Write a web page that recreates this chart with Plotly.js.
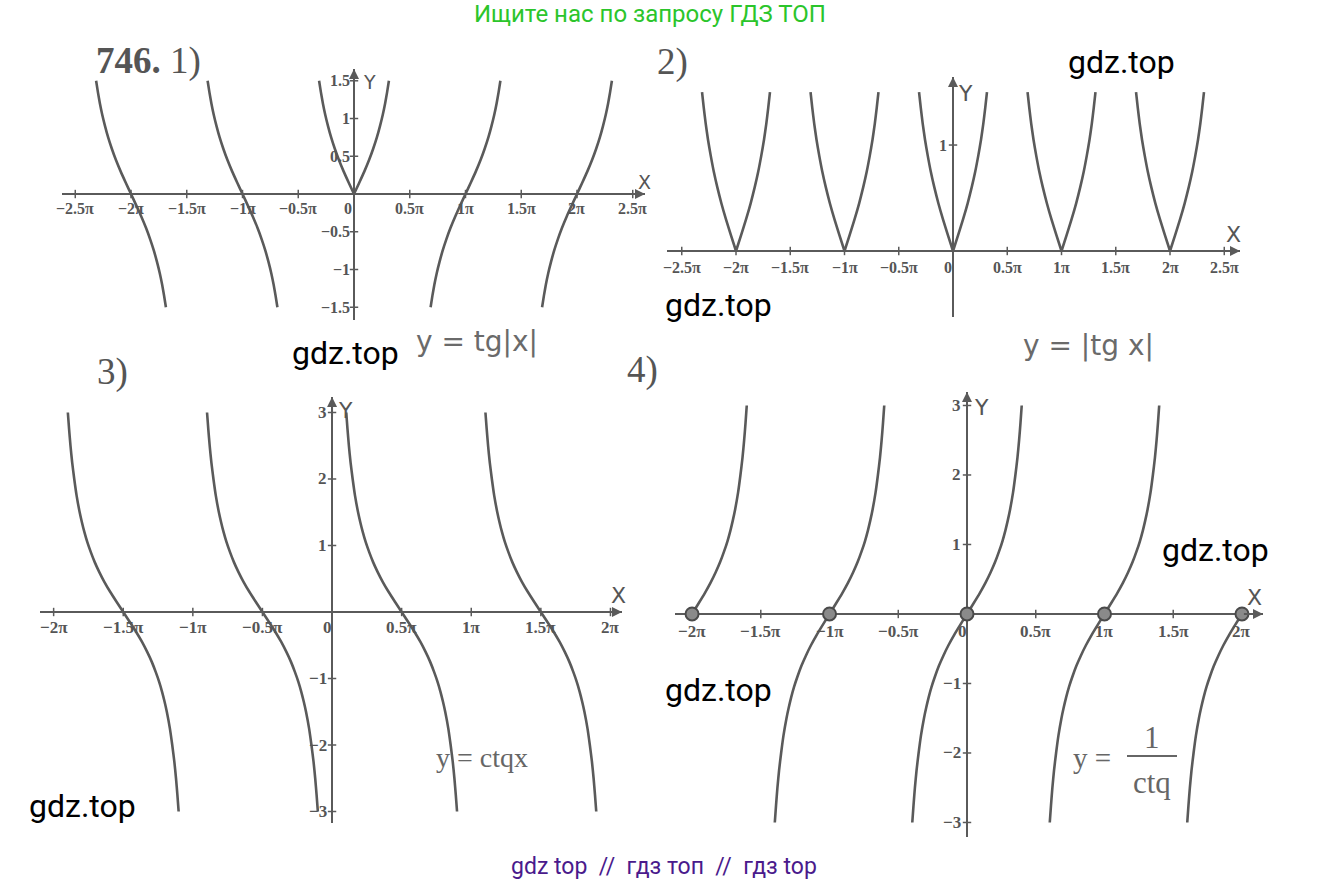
<!DOCTYPE html>
<html>
<head>
<meta charset="utf-8">
<script src="https://cdn.plot.ly/plotly-3.0.1.min.js"></script>
<style>
  html, body { margin: 0; padding: 0; background: #fff; }
  #chart { width: 1331px; height: 883px; }
</style>
</head>
<body>
<div id="chart"></div>
<script>
const W = 1331, H = 883;

// One branch of the tangent curve, read at fixed heights:
// height above the axis, and the branch's distance from its zero there (units of π)
const branchHeights = [0, 0.15, 0.3, 0.45, 0.6, 0.75, 0.9, 1.05, 1.2, 1.35, 1.5, 1.75, 2, 2.25, 2.5, 2.75, 3];
const branchOffsets = [0, 0.047, 0.093, 0.135, 0.172, 0.205, 0.233, 0.258, 0.279, 0.297, 0.313, 0.335, 0.352, 0.367, 0.379, 0.389, 0.398];

// 1) y = tg|x|
const p1Zeros = [-2, -1, 0, 1, 2];
const p1Kinds = ['falling', 'falling', 'vee', 'rising', 'rising'];
const p1Clip = [-1.5, 1.5];
const p1XTicks = [-2.5, -2, -1.5, -1, -0.5, 0, 0.5, 1, 1.5, 2, 2.5];
const p1XLabels = ['−2.5π', '−2π', '−1.5π', '−1π', '−0.5π', '0', '0.5π', '1π', '1.5π', '2π', '2.5π'];
const p1YTicks = [1.5, 1, 0.5, -0.5, -1, -1.5];
const p1YLabels = ['1.5', '1', '0.5', '−0.5', '−1', '−1.5'];

// 2) y = |tg x|
const p2Zeros = [-2, -1, 0, 1, 2];
const p2Kinds = ['vee', 'vee', 'vee', 'vee', 'vee'];
const p2Clip = [0, 1.5];
const p2XTicks = [-2.5, -2, -1.5, -1, -0.5, 0, 0.5, 1, 1.5, 2, 2.5];
const p2XLabels = ['−2.5π', '−2π', '−1.5π', '−1π', '−0.5π', '0', '0.5π', '1π', '1.5π', '2π', '2.5π'];
const p2YTicks = [1];
const p2YLabels = ['1'];

// 3) y = ctg x
const p3Zeros = [-1.5, -0.5, 0.5, 1.5];
const p3Kinds = ['falling', 'falling', 'falling', 'falling'];
const p3Clip = [-3, 3];
const p3XTicks = [-2, -1.5, -1, -0.5, 0, 0.5, 1, 1.5, 2];
const p3XLabels = ['−2π', '−1.5π', '−1π', '−0.5π', '0', '0.5π', '1π', '1.5π', '2π'];
const p3YTicks = [3, 2, 1, -1, -2, -3];
const p3YLabels = ['3', '2', '1', '−1', '−2', '−3'];

// 4) y = 1 / ctg x, drawn on [−2π, 2π] with its zeros marked
const p4Zeros = [-2, -1, 0, 1, 2];
const p4Kinds = ['rising', 'rising', 'rising', 'rising', 'rising'];
const p4Clip = [-3, 3];
const p4Span = [-2, 2];
const p4Marked = [-2, -1, 0, 1, 2];
const p4XTicks = [-2, -1.5, -1, -0.5, 0, 0.5, 1, 1.5, 2];
const p4XLabels = ['−2π', '−1.5π', '−1π', '−0.5π', '0', '0.5π', '1π', '1.5π', '2π'];
const p4YTicks = [3, 2, 1, -1, -2, -3];
const p4YLabels = ['3', '2', '1', '−1', '−2', '−3'];

const INK = '#5a5a5a';
const LABEL = '#555555';
const SERIF = 'Liberation Serif, Times New Roman, serif';
const SANS = 'DejaVu Sans, sans-serif';

// Pieces of one branch: the left half walks toward the zero, the right half away from it.
function branchPieces(zero, kind, clip, span) {
  const inside = (x, y) => y >= clip[0] - 1e-9 && y <= clip[1] + 1e-9 &&
                           (!span || (x >= span[0] - 1e-9 && x <= span[1] + 1e-9));
  const left = { x: [], y: [] }, right = { x: [], y: [] };
  for (let i = branchHeights.length - 1; i >= 0; i--) {
    const x = zero - branchOffsets[i];
    const y = kind === 'rising' ? -branchHeights[i] : branchHeights[i];
    if (inside(x, y)) { left.x.push(x); left.y.push(y); }
  }
  for (let i = 0; i < branchHeights.length; i++) {
    const x = zero + branchOffsets[i];
    const y = kind === 'falling' ? -branchHeights[i] : branchHeights[i];
    if (inside(x, y)) { right.x.push(x); right.y.push(y); }
  }
  if (kind === 'vee') return [left, right];
  return [{ x: left.x.concat(right.x.slice(1)), y: left.y.concat(right.y.slice(1)) }];
}

// Pixel-box geometry of each panel
const panels = [
  { n: '',  box: [62, 69, 645, 320],  xr: [-2.619, 2.61],  yr: [-1.669, 1.656],
    zeros: p1Zeros, kinds: p1Kinds, clip: p1Clip, span: null,
    xt: p1XTicks, xl: p1XLabels, yt: p1YTicks, yl: p1YLabels,
    xlShift: -14, zeroShift: -6, ylShift: -2, tickFont: 16 },
  { n: '2', box: [667, 77, 1240, 317], xr: [-2.636, 2.645], yr: [-0.623, 1.642],
    zeros: p2Zeros, kinds: p2Kinds, clip: p2Clip, span: null,
    xt: p2XTicks, xl: p2XLabels, yt: p2YTicks, yl: p2YLabels,
    xlShift: -17, zeroShift: -5, ylShift: -4, tickFont: 16 },
  { n: '3', box: [40, 397, 622, 823],  xr: [-2.098, 2.083], yr: [-3.173, 3.233],
    zeros: p3Zeros, kinds: p3Kinds, clip: p3Clip, span: null,
    xt: p3XTicks, xl: p3XLabels, yt: p3YTicks, yl: p3YLabels,
    xlShift: -15, zeroShift: -5, ylShift: -3, tickFont: 17 },
  { n: '4', box: [675, 392, 1263, 837], xr: [-2.124, 2.153], yr: [-3.209, 3.194],
    zeros: p4Zeros, kinds: p4Kinds, clip: p4Clip, span: p4Span,
    xt: p4XTicks, xl: p4XLabels, yt: p4YTicks, yl: p4YLabels,
    xlShift: -18, zeroShift: -5, ylShift: -4, tickFont: 17 }
];

const traces = [];
const annotations = [];
const layout = {
  width: W, height: H,
  margin: { l: 0, r: 0, t: 0, b: 0, pad: 0 },
  paper_bgcolor: '#ffffff', plot_bgcolor: 'rgba(0,0,0,0)',
  showlegend: false,
  font: { family: SERIF, color: INK },
  shapes: []
};

panels.forEach(p => {
  const xa = 'x' + p.n, ya = 'y' + p.n;
  const [x0, y0, x1, y1] = p.box;
  layout['xaxis' + p.n] = {
    domain: [x0 / W, x1 / W], range: p.xr, anchor: ya,
    showgrid: false, showticklabels: false, ticks: '', showline: false,
    zeroline: true, zerolinecolor: INK, zerolinewidth: 2, fixedrange: true
  };
  layout['yaxis' + p.n] = {
    domain: [1 - y1 / H, 1 - y0 / H], range: p.yr, anchor: xa,
    showgrid: false, showticklabels: false, ticks: '', showline: false,
    zeroline: true, zerolinecolor: INK, zerolinewidth: 2, fixedrange: true
  };

  // curves
  p.zeros.forEach((z, i) => {
    branchPieces(z, p.kinds[i], p.clip, p.span).forEach(piece => {
      traces.push({
        type: 'scatter', mode: 'lines', x: piece.x, y: piece.y,
        xaxis: xa, yaxis: ya, hoverinfo: 'skip', cliponaxis: false,
        line: { color: INK, width: 2.6, shape: 'spline', smoothing: 0.6 }
      });
    });
  });

  // small tick marks on both axes
  const xt = p.xt.filter(v => v !== 0);
  traces.push({
    type: 'scatter', mode: 'markers', x: xt, y: xt.map(() => 0),
    xaxis: xa, yaxis: ya, hoverinfo: 'skip', cliponaxis: false,
    marker: { symbol: 'line-ns-open', size: 6, color: INK, line: { color: INK, width: 1.5 } }
  });
  traces.push({
    type: 'scatter', mode: 'markers', x: p.yt.map(() => 0), y: p.yt,
    xaxis: xa, yaxis: ya, hoverinfo: 'skip', cliponaxis: false,
    marker: { symbol: 'line-ew-open', size: 6, color: INK, line: { color: INK, width: 1.5 } }
  });

  // tick labels
  const tickFont = { family: SERIF, size: p.tickFont, color: LABEL, weight: 'bold' };
  p.xt.forEach((v, i) => {
    annotations.push({
      xref: xa, yref: ya, x: v, y: 0, text: p.xl[i], showarrow: false,
      xanchor: 'center', yanchor: 'middle', yshift: p.xlShift,
      xshift: v === 0 ? p.zeroShift : 0, font: tickFont
    });
  });
  p.yt.forEach((v, i) => {
    annotations.push({
      xref: xa, yref: ya, x: 0, y: v, text: p.yl[i], showarrow: false,
      xanchor: 'right', yanchor: 'middle', xshift: p.ylShift, font: tickFont
    });
  });

  // arrow heads at the ends of both axes
  annotations.push({
    xref: xa, yref: ya, axref: xa, ayref: ya, x: p.xr[1], y: 0,
    ax: p.xr[1] - 0.15, ay: 0, text: '', showarrow: true,
    arrowhead: 2, arrowsize: 1, arrowwidth: 2, arrowcolor: INK, standoff: 0
  });
  annotations.push({
    xref: xa, yref: ya, axref: xa, ayref: ya, x: 0, y: p.yr[1],
    ax: 0, ay: p.yr[1] - (p.yr[1] - p.yr[0]) * 0.05, text: '', showarrow: true,
    arrowhead: 2, arrowsize: 1, arrowwidth: 2, arrowcolor: INK, standoff: 0
  });
});

// marked zeros of the fourth graph
traces.push({
  type: 'scatter', mode: 'markers', x: p4Marked, y: p4Marked.map(() => 0),
  xaxis: 'x4', yaxis: 'y4', hoverinfo: 'skip', cliponaxis: false,
  marker: { symbol: 'circle', size: 13, color: '#8a8a8a', line: { color: '#4a4a4a', width: 2 } }
});

// text placed on the page in pixels
function pageText(px, py, text, font, xanchor) {
  annotations.push({
    xref: 'paper', yref: 'paper', x: px / W, y: 1 - py / H, text: text,
    showarrow: false, xanchor: xanchor || 'center', yanchor: 'middle', font: font
  });
}

const axisName = { family: SANS, color: LABEL };
pageText(644, 182, 'X', Object.assign({ size: 19 }, axisName));
pageText(369, 82, 'Y', Object.assign({ size: 19 }, axisName));
pageText(1233, 235, 'X', Object.assign({ size: 22 }, axisName));
pageText(965, 93, 'Y', Object.assign({ size: 22 }, axisName));
pageText(618, 595, 'X', Object.assign({ size: 22 }, axisName));
pageText(345, 410, 'Y', Object.assign({ size: 22 }, axisName));
pageText(1254, 597, 'X', Object.assign({ size: 22 }, axisName));
pageText(981, 407, 'Y', Object.assign({ size: 22 }, axisName));

// exercise numbering
const numFont = { family: SERIF, size: 37, color: LABEL };
pageText(94, 61, '<b>746.</b> 1)', numFont, 'left');
pageText(655, 62, '2)', numFont, 'left');
pageText(95, 372, '3)', numFont, 'left');
pageText(625, 370, '4)', numFont, 'left');

// formulas
const hand = { family: 'DejaVu Sans, sans-serif', size: 28, color: '#6a6a6a' };
pageText(477, 341, 'y = tg|x|', hand);
pageText(1088, 345, 'y = |tg x|', hand);
pageText(482, 757, 'y = ctqx', { family: SERIF, size: 28, color: '#666666' });
pageText(1092, 758, 'y =', { family: SERIF, size: 29, color: '#666666' });
pageText(1152, 737, '1', { family: SERIF, size: 31, color: '#666666' });
pageText(1152, 782, 'ctq', { family: SERIF, size: 31, color: '#666666' });
layout.shapes.push({
  type: 'line', xref: 'paper', yref: 'paper',
  x0: 1127 / W, x1: 1177 / W, y0: 1 - 756 / H, y1: 1 - 756 / H,
  line: { color: '#666666', width: 2 }
});

// site marks
const mark = { family: 'Roboto, sans-serif', size: 32, color: '#000000' };
pageText(1121, 62, 'gdz.top', mark);
pageText(718, 305, 'gdz.top', mark);
pageText(345, 353, 'gdz.top', mark);
pageText(1215, 550, 'gdz.top', mark);
pageText(718, 690, 'gdz.top', mark);
pageText(82, 806, 'gdz.top', mark);
pageText(650, 14, 'Ищите нас по запросу ГДЗ ТОП', { family: 'Roboto, sans-serif', size: 24, color: '#2bc52b' });
pageText(664, 866, 'gdz top &nbsp;// &nbsp;гдз топ &nbsp;// &nbsp;гдз top', { family: 'Roboto, sans-serif', size: 23, color: '#4a1a8c' });

layout.annotations = annotations;

Plotly.newPlot('chart', traces, layout, { staticPlot: true, displayModeBar: false });
</script>
</body>
</html>
